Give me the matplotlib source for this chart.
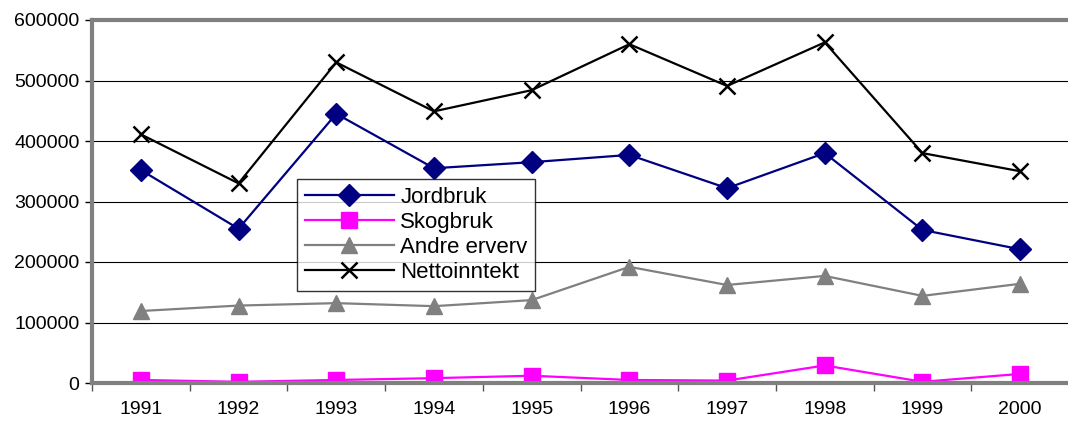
import numpy as np
import matplotlib.pyplot as plt

years = ["1991", "1992", "1993", "1994", "1995", "1996", "1997", "1998", "1999", "2000"]
jordbruk = [352000, 255000, 445000, 355000, 365000, 377000, 322000, 380000, 253000, 221000]
skogbruk = [5000, 2000, 5000, 8000, 12000, 5000, 4000, 29000, 2000, 15000]
andre = [119000, 128000, 132000, 127000, 137000, 192000, 162000, 177000, 144000, 164000]
netto = [411000, 330000, 530000, 449000, 484000, 560000, 491000, 563000, 380000, 350000]

plt.rcParams['font.family'] = ['Liberation Sans', 'DejaVu Sans']

fig = plt.figure(figsize=(10.68, 4.26), dpi=100)
ax = fig.add_axes([92 / 1068, 43 / 426, 977 / 1068, 363 / 426])

x = np.arange(len(years))
ax.plot(x, jordbruk, color="#000080", marker="D", markersize=11, lw=1.6, label="Jordbruk")
ax.plot(x, skogbruk, color="#ff00ff", marker="s", markersize=12, lw=1.6, label="Skogbruk")
ax.plot(x, andre, color="#808080", marker="^", markersize=12, lw=1.6, label="Andre erverv")
ax.plot(x, netto, color="black", marker="x", markersize=12, mew=1.8, lw=1.6, label="Nettoinntekt")

ax.set_xlim(-0.5, len(years) - 0.5)
ax.set_ylim(0, 600000)
ax.set_yticks(np.arange(0, 600001, 100000))
ax.yaxis.grid(True, color="black", lw=0.8)
ax.set_axisbelow(True)

ax.set_xticks(x)
ax.set_xticklabels(years)
ax.set_xticks(np.arange(-0.5, len(years), 1.0), minor=True)
ax.tick_params(axis="x", which="major", length=0, pad=13, labelsize=14)
ax.tick_params(axis="x", which="minor", length=6, width=1, direction="out", color="#555555")
ax.tick_params(axis="y", length=5, width=1, labelsize=14, pad=4)

for side in ["left", "top", "bottom"]:
    ax.spines[side].set_color("#808080")
    ax.spines[side].set_linewidth(3)
ax.spines["right"].set_color("#d0d0d0")
ax.spines["right"].set_linewidth(1)

leg = ax.legend(loc="upper left", bbox_to_anchor=(205 / 977, (383 - 179) / 363),
                fontsize=16, frameon=True, fancybox=False, edgecolor="black",
                borderpad=0.35, labelspacing=0.18, handlelength=4.0, handletextpad=0.3,
                borderaxespad=0)
leg.get_frame().set_linewidth(1)

fig.savefig("out.png", dpi=100)
